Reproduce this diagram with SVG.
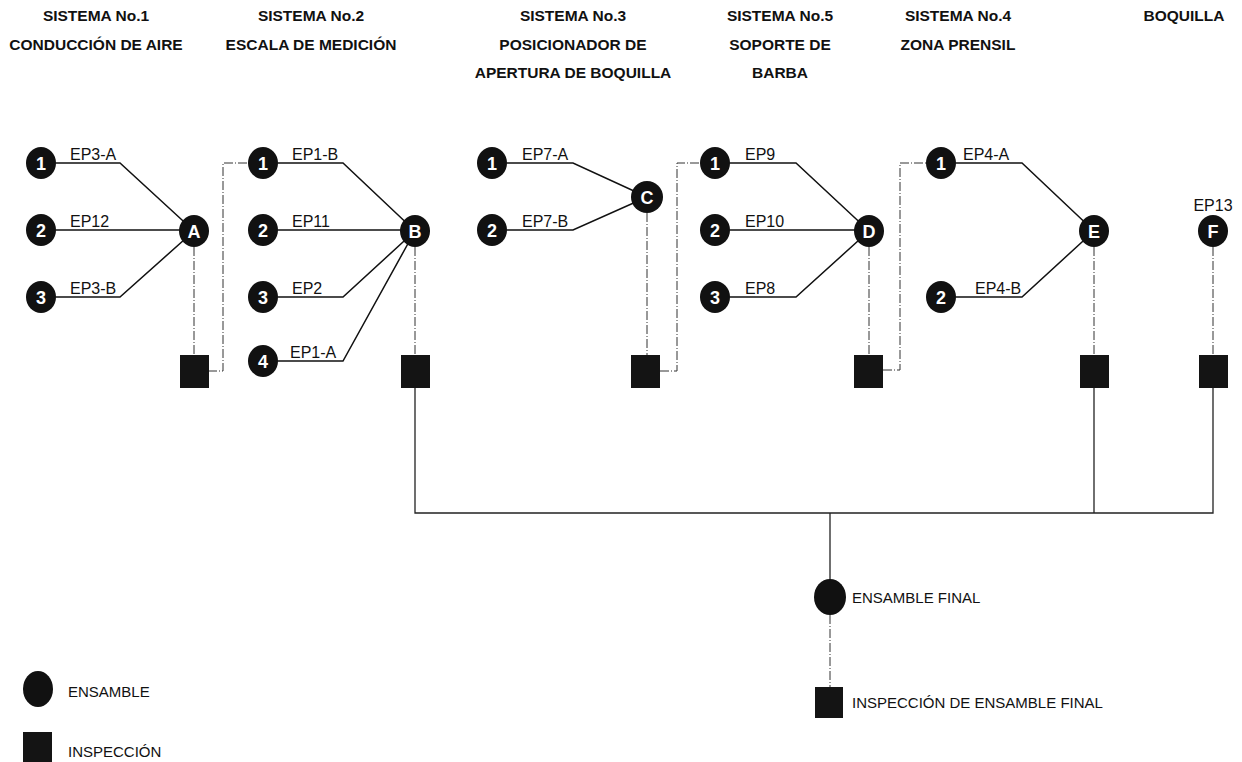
<svg xmlns="http://www.w3.org/2000/svg" width="1242" height="762" viewBox="0 0 1242 762">
<style>
.bg{fill:#fff}
.title{font-family:"Liberation Sans",Arial,sans-serif;font-weight:bold;font-size:15.5px;fill:#111;text-anchor:middle}
.lbl{font-family:"Liberation Sans",Arial,sans-serif;font-size:15px;fill:#111}
.ep{font-family:"Liberation Sans",Arial,sans-serif;font-size:16px;fill:#111}
.num{font-family:"Liberation Sans",Arial,sans-serif;font-weight:bold;font-size:18px;fill:#fff;text-anchor:middle}
.nd{fill:#111}
.sq{fill:#141414}
.ln{fill:none;stroke:#111;stroke-width:1.5}
.dd{fill:none;stroke:#333;stroke-width:1;stroke-dasharray:9 2 1 2}
.so{fill:none;stroke:#222;stroke-width:1.3}
</style>
<rect class="bg" width="1242" height="762"/>
<g id="titles">
<text class="title" x="96" y="21">SISTEMA No.1</text>
<text class="title" x="96" y="50">CONDUCCIÓN DE AIRE</text>
<text class="title" x="311" y="21">SISTEMA No.2</text>
<text class="title" x="311" y="50">ESCALA DE MEDICIÓN</text>
<text class="title" x="573" y="21">SISTEMA No.3</text>
<text class="title" x="573" y="50">POSICIONADOR DE</text>
<text class="title" x="573" y="78">APERTURA DE BOQUILLA</text>
<text class="title" x="780" y="21">SISTEMA No.5</text>
<text class="title" x="780" y="50">SOPORTE DE</text>
<text class="title" x="780" y="78">BARBA</text>
<text class="title" x="958" y="21">SISTEMA No.4</text>
<text class="title" x="958" y="50">ZONA PRENSIL</text>
<text class="title" x="1184" y="21">BOQUILLA</text>
</g>
<g id="connectors">
<polyline class="ln" points="56,163 120,163 194,231"/>
<line class="ln" x1="56" y1="230" x2="194" y2="230"/>
<polyline class="ln" points="56,297 120,297 194,231"/>
<polyline class="ln" points="278,163 343,163 415,231"/>
<line class="ln" x1="278" y1="230" x2="415" y2="230"/>
<polyline class="ln" points="278,297 343,297 415,231"/>
<polyline class="ln" points="278,361 343,361 415,231"/>
<polyline class="ln" points="507,163 573,163 647,197"/>
<polyline class="ln" points="507,230 573,230 647,197"/>
<polyline class="ln" points="730,163 796,163 869,231"/>
<line class="ln" x1="730" y1="230" x2="869" y2="230"/>
<polyline class="ln" points="730,297 796,297 869,231"/>
<polyline class="ln" points="956,163 1022,163 1094,231"/>
<polyline class="ln" points="956,297 1022,297 1094,231"/>
<line class="dd" x1="194" y1="247" x2="194" y2="355"/>
<polyline class="dd" points="208,371 223,371 223,163 248,163"/>
<line class="dd" x1="415" y1="247" x2="415" y2="355"/>
<line class="dd" x1="647" y1="213" x2="647" y2="355"/>
<polyline class="dd" points="660,371 677,371 677,163 700,163"/>
<line class="dd" x1="869" y1="247" x2="869" y2="355"/>
<polyline class="dd" points="883,370 900,370 900,163 926,163"/>
<line class="dd" x1="1094" y1="247" x2="1094" y2="355"/>
<line class="dd" x1="1213" y1="247" x2="1213" y2="355"/>
<polyline class="so" points="415,388 415,513 1213,513 1213,388"/>
<line class="so" x1="1094" y1="388" x2="1094" y2="513"/>
<line class="so" x1="830" y1="513" x2="830" y2="580"/>
<line class="dd" x1="830" y1="615" x2="830" y2="687"/>
</g>
<g id="labels">
<text class="ep" x="70" y="160">EP3-A</text>
<text class="ep" x="70" y="227">EP12</text>
<text class="ep" x="70" y="294">EP3-B</text>
<text class="ep" x="292" y="160">EP1-B</text>
<text class="ep" x="292" y="227">EP11</text>
<text class="ep" x="292" y="294">EP2</text>
<text class="ep" x="290" y="358">EP1-A</text>
<text class="ep" x="522" y="160">EP7-A</text>
<text class="ep" x="522" y="227">EP7-B</text>
<text class="ep" x="745" y="160">EP9</text>
<text class="ep" x="745" y="227">EP10</text>
<text class="ep" x="745" y="294">EP8</text>
<text class="ep" x="963" y="160">EP4-A</text>
<text class="ep" x="975" y="294">EP4-B</text>
<text class="ep" x="1213" y="211" text-anchor="middle">EP13</text>
</g>
<g id="s1-1"><ellipse class="nd" cx="41" cy="163" rx="15" ry="16"/><text class="num" x="41" y="169.5">1</text></g>
<g id="s1-2"><ellipse class="nd" cx="41" cy="230" rx="15" ry="16"/><text class="num" x="41" y="236.5">2</text></g>
<g id="s1-3"><ellipse class="nd" cx="41" cy="297" rx="15" ry="16"/><text class="num" x="41" y="303.5">3</text></g>
<g id="node-A"><ellipse class="nd" cx="194" cy="231" rx="15" ry="16"/><text class="num" x="194" y="237.5">A</text></g>
<g id="insp-A"><rect class="sq" x="180" y="355" width="29" height="33"/></g>
<g id="s2-1"><ellipse class="nd" cx="263" cy="163" rx="15" ry="16"/><text class="num" x="263" y="169.5">1</text></g>
<g id="s2-2"><ellipse class="nd" cx="263" cy="230" rx="15" ry="16"/><text class="num" x="263" y="236.5">2</text></g>
<g id="s2-3"><ellipse class="nd" cx="263" cy="297" rx="15" ry="16"/><text class="num" x="263" y="303.5">3</text></g>
<g id="s2-4"><ellipse class="nd" cx="263" cy="361" rx="15" ry="16"/><text class="num" x="263" y="367.5">4</text></g>
<g id="node-B"><ellipse class="nd" cx="415" cy="231" rx="15" ry="16"/><text class="num" x="415" y="237.5">B</text></g>
<g id="insp-B"><rect class="sq" x="401" y="355" width="29" height="33"/></g>
<g id="s3-1"><ellipse class="nd" cx="492" cy="163" rx="15" ry="16"/><text class="num" x="492" y="169.5">1</text></g>
<g id="s3-2"><ellipse class="nd" cx="492" cy="230" rx="15" ry="16"/><text class="num" x="492" y="236.5">2</text></g>
<g id="node-C"><ellipse class="nd" cx="647" cy="197" rx="16" ry="16"/><text class="num" x="647" y="203.5">C</text></g>
<g id="insp-C"><rect class="sq" x="631" y="355" width="29" height="33"/></g>
<g id="s5-1"><ellipse class="nd" cx="715" cy="163" rx="15" ry="16"/><text class="num" x="715" y="169.5">1</text></g>
<g id="s5-2"><ellipse class="nd" cx="715" cy="230" rx="15" ry="16"/><text class="num" x="715" y="236.5">2</text></g>
<g id="s5-3"><ellipse class="nd" cx="715" cy="297" rx="15" ry="16"/><text class="num" x="715" y="303.5">3</text></g>
<g id="node-D"><ellipse class="nd" cx="869" cy="231" rx="15" ry="16"/><text class="num" x="869" y="237.5">D</text></g>
<g id="insp-D"><rect class="sq" x="854" y="355" width="29" height="33"/></g>
<g id="s4-1"><ellipse class="nd" cx="941" cy="163" rx="15" ry="16"/><text class="num" x="941" y="169.5">1</text></g>
<g id="s4-2"><ellipse class="nd" cx="941" cy="297" rx="15" ry="16"/><text class="num" x="941" y="303.5">2</text></g>
<g id="node-E"><ellipse class="nd" cx="1094" cy="231" rx="15" ry="16"/><text class="num" x="1094" y="237.5">E</text></g>
<g id="insp-E"><rect class="sq" x="1080" y="355" width="29" height="33"/></g>
<g id="node-F"><ellipse class="nd" cx="1213" cy="231" rx="15" ry="16"/><text class="num" x="1213" y="237.5">F</text></g>
<g id="insp-F"><rect class="sq" x="1199" y="355" width="29" height="33"/></g>
<g id="final"><ellipse class="nd" cx="830" cy="597" rx="16" ry="18"/><text class="lbl" x="852" y="603">ENSAMBLE FINAL</text></g>
<g id="insp-final"><rect class="sq" x="815" y="687" width="28" height="31"/><text class="lbl" x="852" y="708">INSPECCIÓN DE ENSAMBLE FINAL</text></g>
<g id="legend">
<ellipse class="nd" cx="38" cy="689" rx="15" ry="18"/><text class="lbl" x="68" y="697">ENSAMBLE</text>
<rect class="sq" x="23" y="732" width="29" height="30"/><text class="lbl" x="68" y="757">INSPECCIÓN</text>
</g>
</svg>
